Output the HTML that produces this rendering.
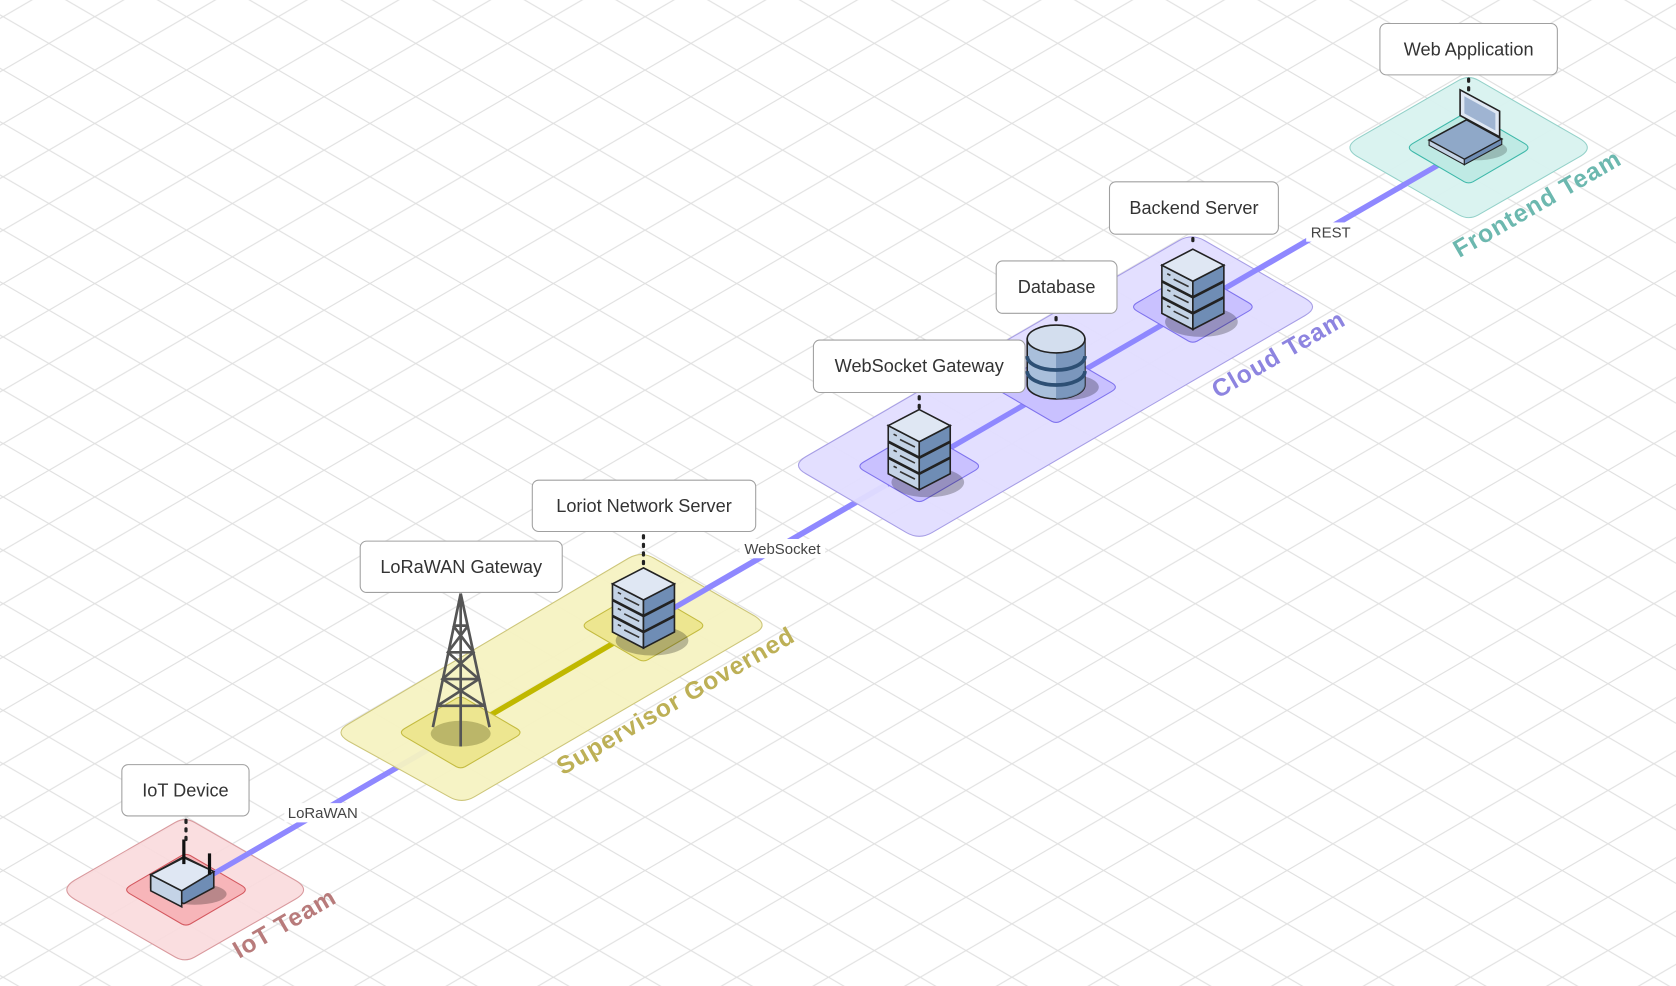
<!DOCTYPE html>
<html><head><meta charset="utf-8"><style>
html,body{margin:0;padding:0;background:#fff;}
svg{display:block;}
text{font-family:"Liberation Sans",sans-serif;}
</style></head><body>
<svg width="1676" height="986" viewBox="0 0 1568 922" preserveAspectRatio="none" xmlns="http://www.w3.org/2000/svg">
<defs>
<pattern id="g" width="85.8" height="49.9" patternUnits="userSpaceOnUse" patternTransform="translate(2.9,15.6)">
<path d="M0,0 L85.8,49.9 M0,49.9 L85.8,0" stroke="#e0e0e0" stroke-width="1.1" fill="none"/>
</pattern>
<g id="srv">
<ellipse cx="8" cy="68" rx="34" ry="14" fill="#000" opacity="0.25"/>
<path d="M-29,15 L0,30 L0,75 L-29,60 Z" fill="#c4d3e6" stroke="#222" stroke-width="1.5"/>
<path d="M0,30 L29,15 L29,60 L0,75 Z" fill="#6f8db5" stroke="#222" stroke-width="1.5"/>
<path d="M0,0 L29,15 L0,30 L-29,15 Z" fill="#dfe7f3" stroke="#222" stroke-width="1.5"/>
<path d="M-29,30 L0,45 L29,30 M-29,45 L0,60 L29,45" stroke="#222" stroke-width="2.5" fill="none"/>
<path d="M-24,23 l3,1.5 M-24,38 l3,1.5 M-24,53 l3,1.5 M-18,28 l14,7 M-18,43 l14,7 M-18,58 l14,7" stroke="#333" stroke-width="1.5"/>
</g>
</defs>
<rect width="1568" height="922" fill="url(#g)"/>

<line x1="174" y1="832" x2="1374" y2="138" stroke="#8f88ff" stroke-width="5"/>

<!-- IoT tile -->
<path d="M70,823 L164,769 Q173,764 182,769 L276,823 Q292,832 276,841 L182,895 Q173,900 164,895 L70,841 Q55,832 70,823Z" fill="#fadadd" fill-opacity="0.9" stroke="#d99a9e"/>
<path d="M122,828 L170,800 Q174,798 178,800 L226,828 Q233,832 226,836 L178,864 Q174,866 170,864 L122,836 Q115,832 122,828Z" fill="#f7b5b9" stroke="#d4585f"/>
<text x="270" y="870" transform="rotate(-30 270 870)" font-size="23" font-weight="bold" fill="#b87b7b" text-anchor="middle" letter-spacing="1">IoT Team</text>
<line x1="174" y1="832" x2="400" y2="701" stroke="#8f88ff" stroke-width="5"/>

<!-- Supervisor tile -->
<path d="M326,677 L588,522 Q600,515 612,522 L706,576 Q720,585 706,592 L444,745 Q432,752 420,745 L326,693 Q312,685 326,677Z" fill="#f6f2c2" fill-opacity="0.95" stroke="#cdc67a"/>
<line x1="431" y1="685" x2="602" y2="585" stroke="#c0b800" stroke-width="5"/>
<path d="M379,681 L427,653 Q431,651 435,653 L483,681 Q490,685 483,689 L435,717 Q431,719 427,717 L379,689 Q372,685 379,681Z" fill="#ede690" stroke="#c4bb40"/>
<path d="M550,581 L598,553 Q602,551 606,553 L654,581 Q661,585 654,589 L606,617 Q602,619 598,617 L550,589 Q543,585 550,581Z" fill="#ede690" stroke="#c4bb40"/>
<text x="636" y="662" transform="rotate(-30 636 662)" font-size="23" font-weight="bold" fill="#bdb056" text-anchor="middle" letter-spacing="1">Supervisor Governed</text>
<line x1="602" y1="585" x2="830" y2="453" stroke="#8f88ff" stroke-width="5"/>

<!-- Cloud tile -->
<path d="M754,427 L1103,225 Q1115,218 1127,225 L1221,279 Q1235,287 1221,295 L872,498 Q860,505 848,498 L754,443 Q740,435 754,427Z" fill="#e2ddff" fill-opacity="0.95" stroke="#a79ee6"/>
<line x1="830" y1="453" x2="1240" y2="215" stroke="#8f88ff" stroke-width="5"/>
<path d="M808,432 L856,404 Q860,402 864,404 L912,432 Q919,436 912,440 L864,468 Q860,470 856,468 L808,440 Q801,436 808,432Z" fill="#c9c1ff" stroke="#7f73ee"/>
<path d="M936,358 L984,330 Q988,328 992,330 L1040,358 Q1047,362 1040,366 L992,394 Q988,396 984,394 L936,366 Q929,362 936,358Z" fill="#c9c1ff" stroke="#7f73ee"/>
<path d="M1064,283 L1112,255 Q1116,253 1120,255 L1168,283 Q1175,287 1168,291 L1120,319 Q1116,321 1112,319 L1064,291 Q1057,287 1064,283Z" fill="#c9c1ff" stroke="#7f73ee"/>
<text x="1200" y="338" transform="rotate(-30 1200 338)" font-size="23" font-weight="bold" fill="#8d84e0" text-anchor="middle" letter-spacing="1">Cloud Team</text>

<!-- Frontend tile -->
<path d="M1271,129 L1365,75 Q1374,70 1383,75 L1477,129 Q1493,138 1477,147 L1383,201 Q1374,206 1365,201 L1271,147 Q1255,138 1271,129Z" fill="#d8f2ef" fill-opacity="0.95" stroke="#94d1c9"/>
<line x1="1240" y1="215" x2="1374" y2="138" stroke="#8f88ff" stroke-width="5"/>
<path d="M1322,134 L1370,106 Q1374,104 1378,106 L1426,134 Q1433,138 1426,142 L1378,170 Q1374,172 1370,170 L1322,142 Q1315,138 1322,134Z" fill="#bfeae4" stroke="#3db8a9"/>
<text x="1442" y="197" transform="rotate(-30 1442 197)" font-size="23" font-weight="bold" fill="#6cb8af" text-anchor="middle" letter-spacing="1">Frontend Team</text>

<!-- connector labels -->
<rect x="266" y="751" width="72" height="18" fill="#fff"/>
<text x="302" y="765" font-size="14" fill="#444" text-anchor="middle">LoRaWAN</text>
<rect x="692" y="504" width="80" height="18" fill="#fff"/>
<text x="732" y="518" font-size="14" fill="#444" text-anchor="middle">WebSocket</text>
<rect x="1222" y="208" width="46" height="18" fill="#fff"/>
<text x="1245" y="222" font-size="14" fill="#444" text-anchor="middle">REST</text>

<!-- router -->
<ellipse cx="182" cy="836" rx="30" ry="10" fill="#000" opacity="0.25"/>
<path d="M141,818 L172,801 L200,815 L200,830 L172,845 L141,830Z" fill="#6f8db5" stroke="#222" stroke-width="1.5"/>
<path d="M141,818 L170,833 L170,848 L141,833Z" fill="#c4d3e6" stroke="#222" stroke-width="1.5"/>
<path d="M141,818 L172,802 L200,815 L170,833Z" fill="#dfe7f3" stroke="#222" stroke-width="1.5"/>
<line x1="196" y1="798" x2="196" y2="818" stroke="#111" stroke-width="3"/>
<line x1="172" y1="785" x2="172" y2="808" stroke="#111" stroke-width="3"/>

<!-- tower -->
<ellipse cx="431" cy="686" rx="28" ry="12" fill="#9a9650" opacity="0.6"/>
<g stroke="#555" stroke-width="2.5" fill="none">
<path d="M431,555 L405,680 M431,555 L458,680 M431,555 L431,698"/>
<path d="M424,585 L438,585 M419,610 L443,610 M414,635 L448,635 M409,660 L453,660"/>
<path d="M424,585 L443,610 L414,635 L453,660 M438,585 L419,610 L448,635 L409,660"/>
</g>

<use href="#srv" x="602" y="531"/>
<use href="#srv" x="860" y="383"/>
<use href="#srv" x="1116" y="233"/>

<!-- database -->
<ellipse cx="998" cy="362" rx="30" ry="12" fill="#000" opacity="0.25"/>
<path d="M961,317 L961,360 A27,13 0 0 0 1015,360 L1015,317Z" fill="#a9bfdb" stroke="#222" stroke-width="1.5"/>
<path d="M988,330 L988,373 A27,13 0 0 0 1015,360 L1015,317Z" fill="#6f8db5" opacity="0.8"/>
<path d="M961,333 A27,13 0 0 0 1015,333 M961,347 A27,13 0 0 0 1015,347" stroke="#2d4f74" stroke-width="3.5" fill="none"/>
<ellipse cx="988" cy="317" rx="27" ry="13" fill="#d3deee" stroke="#222" stroke-width="1.5"/>

<!-- laptop -->
<ellipse cx="1380" cy="140" rx="30" ry="10" fill="#000" opacity="0.2"/>
<path d="M1337,131 L1372,112 L1405,130 L1370,149Z" fill="#8fa8c8" stroke="#222" stroke-width="1.5"/>
<path d="M1337,131 L1370,149 L1370,154 L1337,136Z" fill="#c4d3e6" stroke="#222"/>
<path d="M1370,149 L1405,130 L1405,135 L1370,154Z" fill="#6f8db5" stroke="#222"/>
<path d="M1366,84 L1403,104 L1403,128 L1366,108Z" fill="#dfe7f3" stroke="#222" stroke-width="1.5"/>
<path d="M1370,90 L1399,106 L1399,122 L1370,106Z" fill="#9fb4d2"/>

<g stroke="#222" stroke-width="3" stroke-dasharray="2 6" stroke-linecap="round">
<line x1="174" y1="767" x2="174" y2="790"/>
<line x1="602" y1="501" x2="602" y2="528"/>
<line x1="860" y1="371" x2="860" y2="381"/>
<line x1="988" y1="297" x2="988" y2="300"/>
<line x1="1116" y1="223" x2="1116" y2="231"/>
<line x1="1374" y1="74" x2="1374" y2="84"/>
</g>

<g fill="#fff" stroke="#a0a0a0" stroke-width="1">
<rect x="114" y="715" width="119" height="48" rx="6"/>
<rect x="337" y="506" width="189" height="48" rx="6"/>
<rect x="498" y="449" width="209" height="48" rx="6"/>
<rect x="761" y="318" width="198" height="49" rx="6"/>
<rect x="932" y="244" width="113" height="49" rx="6"/>
<rect x="1038" y="170" width="158" height="49" rx="6"/>
<rect x="1291" y="22" width="166" height="48" rx="6"/>
</g>
<g font-size="17" fill="#333" text-anchor="middle">
<text x="173.5" y="745">IoT Device</text>
<text x="431.5" y="536">LoRaWAN Gateway</text>
<text x="602.5" y="479">Loriot Network Server</text>
<text x="860" y="348">WebSocket Gateway</text>
<text x="988.5" y="274">Database</text>
<text x="1117" y="200">Backend Server</text>
<text x="1374" y="52">Web Application</text>
</g>
</svg>
</body></html>
